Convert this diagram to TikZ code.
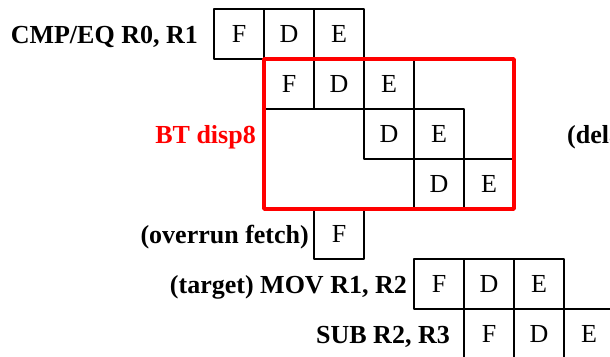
\documentclass[tikz,border=0pt]{standalone}
\usepackage{fontspec}
\setmainfont{Liberation Serif}
\begin{document}
\begin{tikzpicture}[x=1pt, y=-1pt, line join=round,
    font=\fontsize{26}{30}\selectfont,
    cell/.style={draw, line width=1.8pt, minimum size=50pt, inner sep=0pt, outer sep=0pt},
    instr/.style={anchor=base east, inner sep=0pt, font=\fontsize{26}{30}\selectfont\bfseries},
    branchbox/.style={draw=red, line width=3.5pt}]
  \useasboundingbox (0,0) rectangle (610,356);
  \clip (0,0) rectangle (610,356);
  % pipeline cells
  \foreach \n/\x/\y/\s in {cmpF/239/34/F, cmpD/289/34/D, cmpE/339/34/E,
      btF/289/84/F, btD/339/84/D, btE/389/84/E,
      btDa/389/134/D, btEa/439/134/E,
      btDb/439/184/D, btEb/489/184/E,
      ovF/339/234/F,
      movF/439/284/F, movD/489/284/D, movE/539/284/E,
      subF/489/334/F, subD/539/334/D, subE/589/334/E}
    \node[cell] (\n) at (\x,\y) {\s};
  \draw[branchbox] (btF.north west) rectangle (btEb.south east);
  % instruction labels
  \node[instr] (cmp) at (198,43) {CMP/EQ R0, R1};
  \node[instr, text=red] (bt) at (256,143) {BT disp8};
  \node[instr, anchor=base west] (slot) at (567,143) {(delay slot)};
  \node[instr] (ov) at (309,243) {(overrun fetch)};
  \node[instr] (mov) at (407,293) {(target) MOV R1, R2};
  \node[instr] (sub) at (450,343) {SUB R2, R3};
\end{tikzpicture}
\end{document}
